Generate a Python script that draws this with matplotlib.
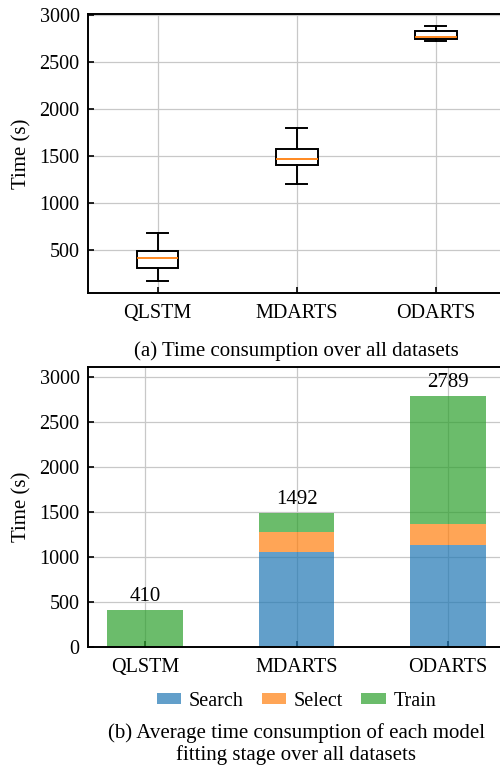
import numpy as np
import matplotlib.pyplot as plt

plt.rcParams['font.family'] = ['Liberation Serif', 'DejaVu Serif']
plt.rcParams['font.size'] = 14.5

models = ['QLSTM', 'MDARTS', 'ODARTS']

# box statistics per model (seconds)
whisker_low = [165, 1195, 2718]
q1 = [305, 1405, 2746]
median = [413, 1466, 2770]
q3 = [485, 1578, 2834]
whisker_high = [680, 1800, 2877]

# average time per stage (seconds)
search = [0, 1060, 1130]
select = [0, 220, 236]
totals = [410, 1492, 2789]
train = [t - a - b for t, a, b in zip(totals, search, select)]

fig = plt.figure(figsize=(5, 7.68), dpi=100)
ax1 = fig.add_axes([0.176, 0.6185, 0.835, 0.3633])
ax2 = fig.add_axes([0.176, 0.1576, 0.834, 0.3646])

grid_kw = dict(color='#c8c8c8', linewidth=0.9)

# (a) boxplot
stats = []
for i, name in enumerate(models):
    stats.append(dict(label=name, whislo=whisker_low[i], q1=q1[i], med=median[i],
                      q3=q3[i], whishi=whisker_high[i], fliers=[]))
ax1.bxp(stats, positions=[1, 2, 3], widths=0.3, patch_artist=True,
        boxprops=dict(facecolor='white', edgecolor='black', linewidth=1.4),
        whiskerprops=dict(color='black', linewidth=1.4),
        capprops=dict(color='black', linewidth=1.4),
        medianprops=dict(color='#ff7f0e', linewidth=1.3))
ax1.set_xlim(0.5, 3.5)
ax1.set_ylim(40, 3010)
ax1.set_yticks([500, 1000, 1500, 2000, 2500, 3000])
ax1.set_ylabel('Time (s)', fontsize=15, labelpad=6)
ax1.set_xlabel('(a) Time consumption over all datasets', fontsize=15, labelpad=13)

# (b) stacked bars
x = np.arange(len(models))
w = 0.5
ax2.bar(x, search, w, color='#1f77b4', alpha=0.7, label='Search')
ax2.bar(x, select, w, bottom=search, color='#ff7f0e', alpha=0.7, label='Select')
bottom_train = [a + b for a, b in zip(search, select)]
ax2.bar(x, train, w, bottom=bottom_train, color='#2ca02c', alpha=0.7, label='Train')
for xi, t in zip(x, totals):
    ax2.annotate(str(t), (xi, t), xytext=(0, 9.5), textcoords='offset points',
                 ha='center', va='center', fontsize=15)
ax2.set_xticks(x)
ax2.set_xticklabels(models)
ax2.set_xlim(-0.375, 2.375)
ax2.set_ylim(0, 3110)
ax2.set_yticks([0, 500, 1000, 1500, 2000, 2500, 3000])
ax2.set_ylabel('Time (s)', fontsize=15, labelpad=6)
ax2.legend(loc='center', bbox_to_anchor=(0.5, -0.195), ncol=3, frameon=False,
           handlelength=1.2, handleheight=0.45, columnspacing=0.9, handletextpad=0.4,
           fontsize=14.5, borderpad=0)
fig.text(0.593, 0.031, '(b) Average time consumption of each model\nfitting stage over all datasets',
         ha='center', va='center', fontsize=15, linespacing=1.1)

for ax in (ax1, ax2):
    ax.grid(True, **grid_kw)
    ax.set_axisbelow(True)
    ax.tick_params(direction='in', length=4, width=1.2, pad=6, labelsize=14.5)
    ax.tick_params(axis='x', pad=8)
    for s in ax.spines.values():
        s.set_linewidth(1.4)

fig.savefig('out.png', dpi=100)
